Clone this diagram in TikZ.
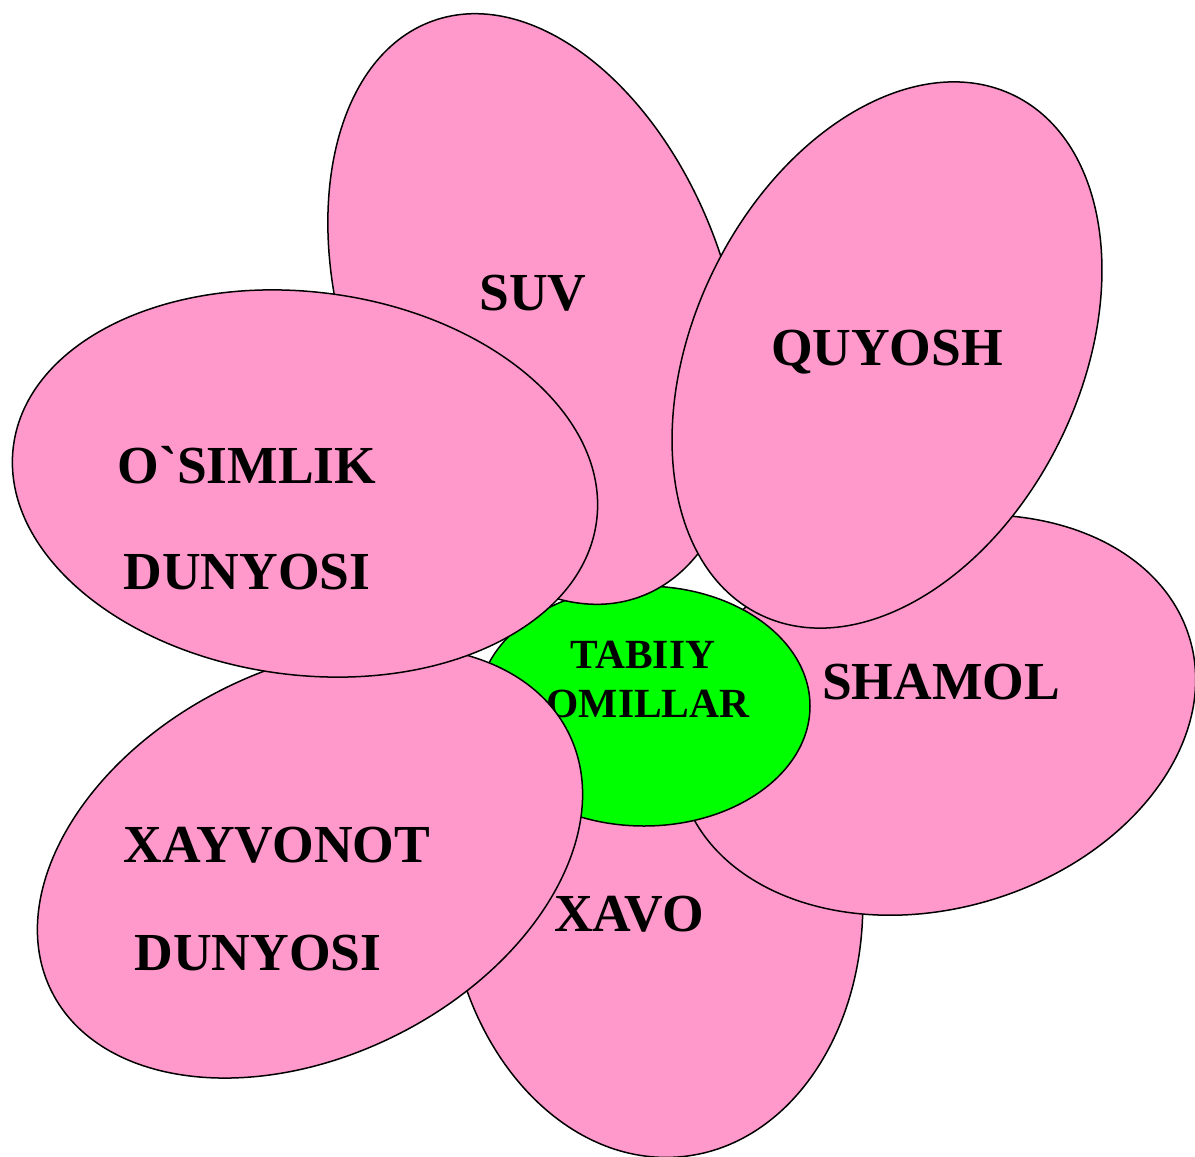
\documentclass[tikz,border=0pt]{standalone}
\usepackage{fontspec}
\setmainfont{Liberation Serif}
\begin{document}
\begin{tikzpicture}[x=1pt,y=-1pt,
  petal/.style={draw=black,line width=1.5pt,fill=petalpink},
  core/.style={draw=black,line width=1.5pt,fill=coregreen},
  lbl/.style={font=\bfseries\fontsize{53.5}{60}\selectfont,inner sep=0pt,anchor=center},
  clbl/.style={font=\bfseries\fontsize{41.5}{48}\selectfont,inner sep=0pt,anchor=center}]
\definecolor{petalpink}{HTML}{FF99CC}
\definecolor{coregreen}{HTML}{00FF00}
\useasboundingbox (0,0) rectangle (1195,1157);
% XAVO petal
\draw[petal,rotate around={6:(655,890)}] (655,890) ellipse [x radius=207, y radius=268];
\node[lbl] (xavo) at (629,914) {XAVO};
% SHAMOL petal
\draw[petal,rotate around={17:(936,715)}] (936,715) ellipse [x radius=265, y radius=193];
\node[lbl] (shamol) at (941,682) {SHAMOL};
% centre
\draw[core] (644,706) ellipse [x radius=166, y radius=120];
\node[clbl] (tabiiy) at (643,655) {TABIIY};
\node[clbl] (omillar) at (648,704) {OMILLAR};
% SUV petal
\draw[petal,rotate around={-70.3:(536,309)}] (536,309) ellipse [x radius=306, y radius=192];
\node[lbl] (suv) at (533,293) {SUV};
% QUYOSH petal
\draw[petal,rotate around={63.9:(887,355)}] (887,355) ellipse [x radius=289, y radius=193];
\node[lbl] (quyosh) at (887,352) {QUYOSH};
% XAYVONOT petal
\draw[petal,rotate around={26.6:(310,862)}] (310,862) ellipse [x radius=289, y radius=193.5];
\node[lbl] (xayvonot) at (277,845) {XAYVONOT};
\node[lbl] (dunyosiB) at (258,953) {DUNYOSI};
% O'SIMLIK petal
\draw[petal,rotate around={-7.3:(305,483.5)}] (305,483.5) ellipse [x radius=294, y radius=191.5];
\node[lbl] (osimlik) at (247,465) {O\textasciigrave SIMLIK};
\node[lbl] (dunyosiA) at (247,572) {DUNYOSI};
\end{tikzpicture}
\end{document}
